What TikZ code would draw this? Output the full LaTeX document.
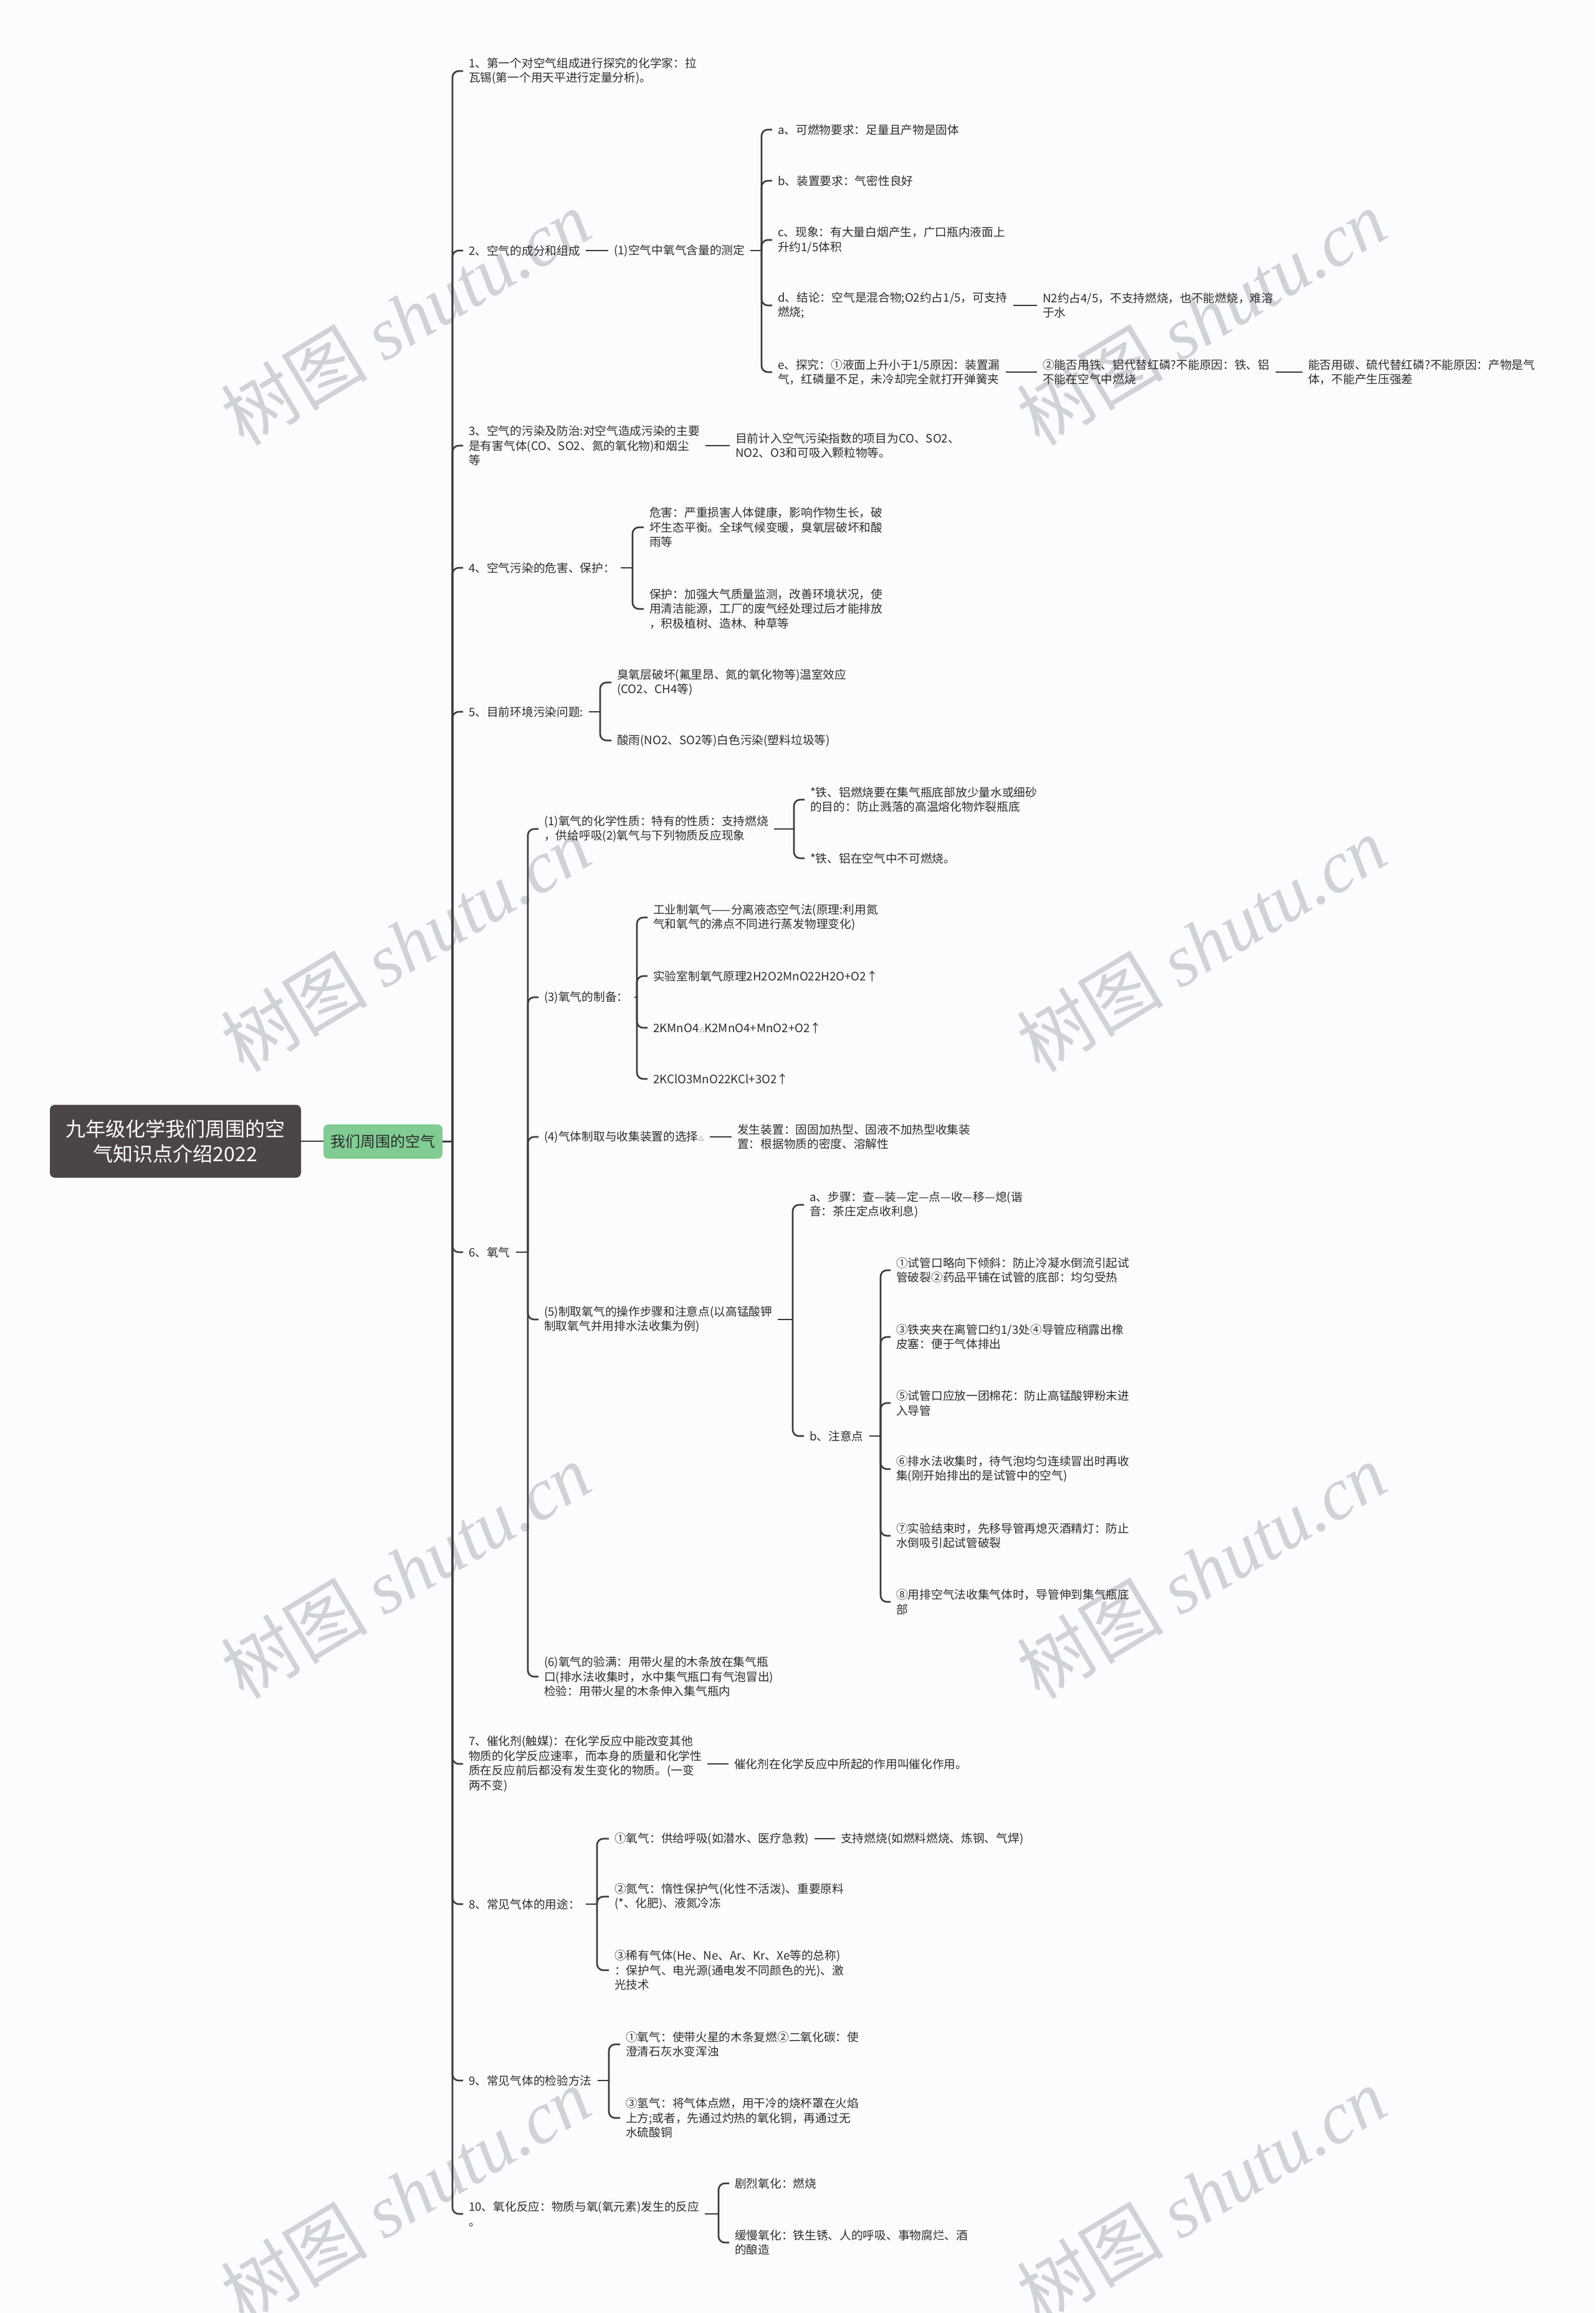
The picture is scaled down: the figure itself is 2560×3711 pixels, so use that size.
\documentclass[tikz,border=0pt]{standalone}
\usepackage{fontspec}
\setmainfont{Noto Sans CJK SC}
\newfontfamily\wmserif{Liberation Serif}
\definecolor{bgcol}{RGB}{250,252,254}
\definecolor{linecol}{RGB}{60,58,58}
\definecolor{txtcol}{RGB}{45,45,45}
\definecolor{rootcol}{RGB}{75,70,69}
\definecolor{greencol}{RGB}{128,204,146}
\definecolor{wmcol}{RGB}{208,211,214}
\tikzset{
  t/.style={anchor=west, align=left, inner xsep=9pt, inner ysep=2pt, text=txtcol,
    font=\fontsize{18.7}{23.6}\selectfont},
  conn/.style={draw=linecol, line width=2.6pt},
  brk/.style={draw=linecol, line width=2.6pt, rounded corners=10pt},
  wm/.style={text=wmcol, rotate=31, font=\fontsize{118}{128}\selectfont, inner sep=0pt}
}
\begin{document}
\begin{tikzpicture}[x=1pt,y=-1pt]
\fill[bgcol] (0,0) rectangle (2560,3711);
\useasboundingbox (0,0) rectangle (2560,3711);

% watermarks
\foreach \wx in {651,1928}{
  \foreach \wy in {509,1514,2520,3521}{
    \node[wm] (wm-\wx-\wy) at (\wx,\wy) {树图 {\wmserif\itshape shutu.cn}};
  }
}

% root and first level
\node[fill=rootcol, rounded corners=8pt, minimum width=403pt, minimum height=117pt,
  text=white, align=center, font=\fontsize{32}{40}\selectfont, inner sep=0pt]
  (root) at (281.5,1831) {九年级化学我们周围的空\\气知识点介绍2022};
\node[fill=greencol, rounded corners=8pt, minimum width=191pt, minimum height=55pt,
  text=txtcol, font=\fontsize{24}{28}\selectfont, inner sep=0pt]
  (g) at (614.5,1831.5) {我们周围的空气};
\draw[conn] (root.east) -- (g.west |- root.east);
\coordinate (BM) at (726,1831.5);
\draw[conn] (g.east) -- (BM);

\node[t] (n1) at (743,114) {1、第一个对空气组成进行探究的化学家：拉\\瓦锡(第一个用天平进行定量分析)。};
\node[t] (n2) at (743,402) {2、空气的成分和组成};
\node[t] (n3) at (743,715) {3、空气的污染及防治:对空气造成污染的主要\\是有害气体(CO、SO2、氮的氧化物)和烟尘\\等};
\node[t] (n4) at (743,911) {4、空气污染的危害、保护：};
\node[t] (n5) at (743,1142) {5、目前环境污染问题:};
\node[t] (n6) at (743,2009) {6、氧气};
\node[t] (n7) at (743,2830) {7、催化剂(触媒)：在化学反应中能改变其他\\物质的化学反应速率，而本身的质量和化学性\\质在反应前后都没有发生变化的物质。(一变\\两不变)};
\node[t] (n8) at (743,3055) {8、常见气体的用途：};
\node[t] (n9) at (743,3338) {9、常见气体的检验方法};
\node[t] (n10) at (743,3552) {10、氧化反应：物质与氧(氧元素)发生的反应\\。};
\foreach \c in {n1,n2,n3,n4,n5,n6,n7,n8,n9,n10}{
  \draw[brk] (BM) |- (\c.west);
}

% 2
\node[t] (n21) at (976,402) {(1)空气中氧气含量的测定};
\draw[conn] (n2.east) -- (n21.west |- n2.east);
\coordinate (B21) at (1222,402);
\draw[conn] (n21.east) -- (B21);
\node[t] (n2a) at (1239,208) {a、可燃物要求：足量且产物是固体};
\node[t] (n2b) at (1239,290) {b、装置要求：气密性良好};
\node[t] (n2c) at (1239,385) {c、现象：有大量白烟产生，广口瓶内液面上\\升约1/5体积};
\node[t] (n2d) at (1239,490) {d、结论：空气是混合物;O2约占1/5，可支持\\燃烧;};
\node[t] (n2e) at (1239,597) {e、探究：①液面上升小于1/5原因：装置漏\\气，红磷量不足，未冷却完全就打开弹簧夹};
\foreach \c in {n2a,n2b,n2c,n2d,n2e}{
  \draw[brk] (B21) |- (\c.west);
}
\node[t] (n2d1) at (1664,490) {N2约占4/5，不支持燃烧，也不能燃烧，难溶\\于水};
\draw[conn] (n2d.east) -- (n2d1.west |- n2d.east);
\node[t] (n2e1) at (1664,597) {②能否用铁、铝代替红磷?不能原因：铁、铝\\不能在空气中燃烧};
\draw[conn] (n2e.east) -- (n2e1.west |- n2e.east);
\node[t] (n2e2) at (2090,597) {能否用碳、硫代替红磷?不能原因：产物是气\\体，不能产生压强差};
\draw[conn] (n2e1.east) -- (n2e2.west |- n2e1.east);

% 3
\node[t] (n31) at (1171,715) {目前计入空气污染指数的项目为CO、SO2、\\NO2、O3和可吸入颗粒物等。};
\draw[conn] (n3.east) -- (n31.west |- n3.east);

% 4
\coordinate (B4) at (1015,911);
\draw[conn] (n4.east) -- (B4);
\node[t] (n41) at (1033,846) {危害：严重损害人体健康，影响作物生长，破\\坏生态平衡。全球气候变暖，臭氧层破坏和酸\\雨等};
\node[t] (n42) at (1033,977) {保护：加强大气质量监测，改善环境状况，使\\用清洁能源，工厂的废气经处理过后才能排放\\，积极植树、造林、种草等};
\foreach \c in {n41,n42}{ \draw[brk] (B4) |- (\c.west); }

% 5
\coordinate (B5) at (963,1142);
\draw[conn] (n5.east) -- (B5);
\node[t] (n51) at (981,1095) {臭氧层破坏(氟里昂、氮的氧化物等)温室效应\\(CO2、CH4等)};
\node[t] (n52) at (981,1188) {酸雨(NO2、SO2等)白色污染(塑料垃圾等)};
\foreach \c in {n51,n52}{ \draw[brk] (B5) |- (\c.west); }

% 6
\coordinate (B6) at (847,2009);
\draw[conn] (n6.east) -- (B6);
\node[t] (n61) at (864,1330) {(1)氧气的化学性质：特有的性质：支持燃烧\\，供给呼吸(2)氧气与下列物质反应现象};
\node[t] (n63) at (864,1600) {(3)氧气的制备：};
\node[t] (n64) at (864,1824) {(4)气体制取与收集装置的选择{\fontsize{9}{10}\selectfont △}};
\node[t] (n65) at (864,2117) {(5)制取氧气的操作步骤和注意点(以高锰酸钾\\制取氧气并用排水法收集为例)};
\node[t] (n66) at (864,2690) {(6)氧气的验满：用带火星的木条放在集气瓶\\口(排水法收集时，水中集气瓶口有气泡冒出)\\检验：用带火星的木条伸入集气瓶内};
\foreach \c in {n61,n63,n64,n65,n66}{ \draw[brk] (B6) |- (\c.west); }

\coordinate (B61) at (1274,1330);
\draw[conn] (n61.east) -- (B61);
\node[t] (n611) at (1291,1283) {*铁、铝燃烧要在集气瓶底部放少量水或细砂\\的目的：防止溅落的高温熔化物炸裂瓶底};
\node[t] (n612) at (1291,1377) {*铁、铝在空气中不可燃烧。};
\foreach \c in {n611,n612}{ \draw[brk] (B61) |- (\c.west); }

\coordinate (B63) at (1022,1600);
\draw[conn] (n63.east) -- (B63);
\node[t] (n631) at (1039,1472) {工业制氧气——分离液态空气法(原理:利用氮\\气和氧气的沸点不同进行蒸发物理变化)};
\node[t] (n632) at (1039,1566) {实验室制氧气原理2H2O2MnO22H2O+O2↑};
\node[t] (n633) at (1039,1649) {2KMnO4{\fontsize{9}{10}\selectfont △}K2MnO4+MnO2+O2↑};
\node[t] (n634) at (1039,1731) {2KClO3MnO22KCl+3O2↑};
\foreach \c in {n631,n632,n633,n634}{ \draw[brk] (B63) |- (\c.west); }

\node[t] (n641) at (1174,1824) {发生装置：固固加热型、固液不加热型收集装\\置：根据物质的密度、溶解性};
\draw[conn] (n64.east) -- (n641.west |- n64.east);

\coordinate (B65) at (1272,2117);
\draw[conn] (n65.east) -- (B65);
\node[t] (n65a) at (1290,1933) {a、步骤：查—装—定—点—收—移—熄(谐\\音：茶庄定点收利息)};
\node[t] (n65b) at (1290,2304) {b、注意点};
\foreach \c in {n65a,n65b}{ \draw[brk] (B65) |- (\c.west); }

\coordinate (B65b) at (1413,2304);
\draw[conn] (n65b.east) -- (B65b);
\node[t] (k1) at (1429,2038) {①试管口略向下倾斜：防止冷凝水倒流引起试\\管破裂②药品平铺在试管的底部：均匀受热};
\node[t] (k2) at (1429,2145) {③铁夹夹在离管口约1/3处④导管应稍露出橡\\皮塞：便于气体排出};
\node[t] (k3) at (1429,2251) {⑤试管口应放一团棉花：防止高锰酸钾粉末进\\入导管};
\node[t] (k4) at (1429,2357) {⑥排水法收集时，待气泡均匀连续冒出时再收\\集(刚开始排出的是试管中的空气)};
\node[t] (k5) at (1429,2464) {⑦实验结束时，先移导管再熄灭酒精灯：防止\\水倒吸引起试管破裂};
\node[t] (k6) at (1429,2570) {⑧用排空气法收集气体时，导管伸到集气瓶底\\部};
\foreach \c in {k1,k2,k3,k4,k5,k6}{ \draw[brk] (B65b) |- (\c.west); }

% 7
\node[t] (n71) at (1169,2830) {催化剂在化学反应中所起的作用叫催化作用。};
\draw[conn] (n7.east) -- (n71.west |- n7.east);

% 8
\coordinate (B8) at (958,3055);
\draw[conn] (n8.east) -- (B8);
\node[t] (n81) at (977,2950) {①氧气：供给呼吸(如潜水、医疗急救)};
\node[t] (n82) at (977,3043) {②氮气：惰性保护气(化性不活泼)、重要原料\\(*、化肥)、液氮冷冻};
\node[t] (n83) at (977,3161) {③稀有气体(He、Ne、Ar、Kr、Xe等的总称)\\：保护气、电光源(通电发不同颜色的光)、激\\光技术};
\foreach \c in {n81,n82,n83}{ \draw[brk] (B8) |- (\c.west); }
\node[t] (n811) at (1340,2950) {支持燃烧(如燃料燃烧、炼钢、气焊)};
\draw[conn] (n81.east) -- (n811.west |- n81.east);

% 9
\coordinate (B9) at (977,3338);
\draw[conn] (n9.east) -- (B9);
\node[t] (n91) at (995,3280) {①氧气：使带火星的木条复燃②二氧化碳：使\\澄清石灰水变浑浊};
\node[t] (n92) at (995,3398) {③氢气：将气体点燃，用干冷的烧杯罩在火焰\\上方;或者，先通过灼热的氧化铜，再通过无\\水硫酸铜};
\foreach \c in {n91,n92}{ \draw[brk] (B9) |- (\c.west); }

% 10
\coordinate (B10) at (1153,3552);
\draw[conn] (n10.east) -- (B10);
\node[t] (n101) at (1170,3503) {剧烈氧化：燃烧};
\node[t] (n102) at (1170,3598) {缓慢氧化：铁生锈、人的呼吸、事物腐烂、酒\\的酿造};
\foreach \c in {n101,n102}{ \draw[brk] (B10) |- (\c.west); }
\end{tikzpicture}
\end{document}
